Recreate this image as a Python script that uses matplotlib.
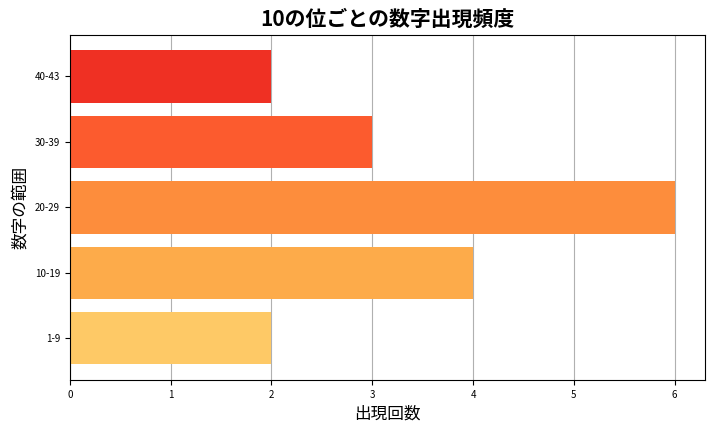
import matplotlib
matplotlib.use("Agg")
import matplotlib.pyplot as plt

plt.rcParams["font.family"] = "Noto Sans CJK JP"

categories = ["1-9", "10-19", "20-29", "30-39", "40-43"]
counts = [2, 4, 6, 3, 2]
colors = ["#fec966", "#fdab4a", "#fd8d3c", "#fc5b2e", "#ef3023"]

fig = plt.figure(figsize=(7.2, 4.32), dpi=100)
ax = fig.add_axes([0.097, 0.12, 0.882, 0.8])
ax.barh(categories, counts, color=colors, zorder=2)
ax.grid(axis="x", color="#b0b0b0", linewidth=0.8, zorder=0)
ax.set_axisbelow(True)
ax.set_title("10の位ごとの数字出現頻度", fontsize=15, fontweight="bold")
ax.set_xlabel("出現回数", fontsize=12)
ax.set_ylabel("数字の範囲", fontsize=12)
ax.tick_params(labelsize=7)
ax.set_xlim(0, 6.3)
fig.savefig("out.png", dpi=100)
